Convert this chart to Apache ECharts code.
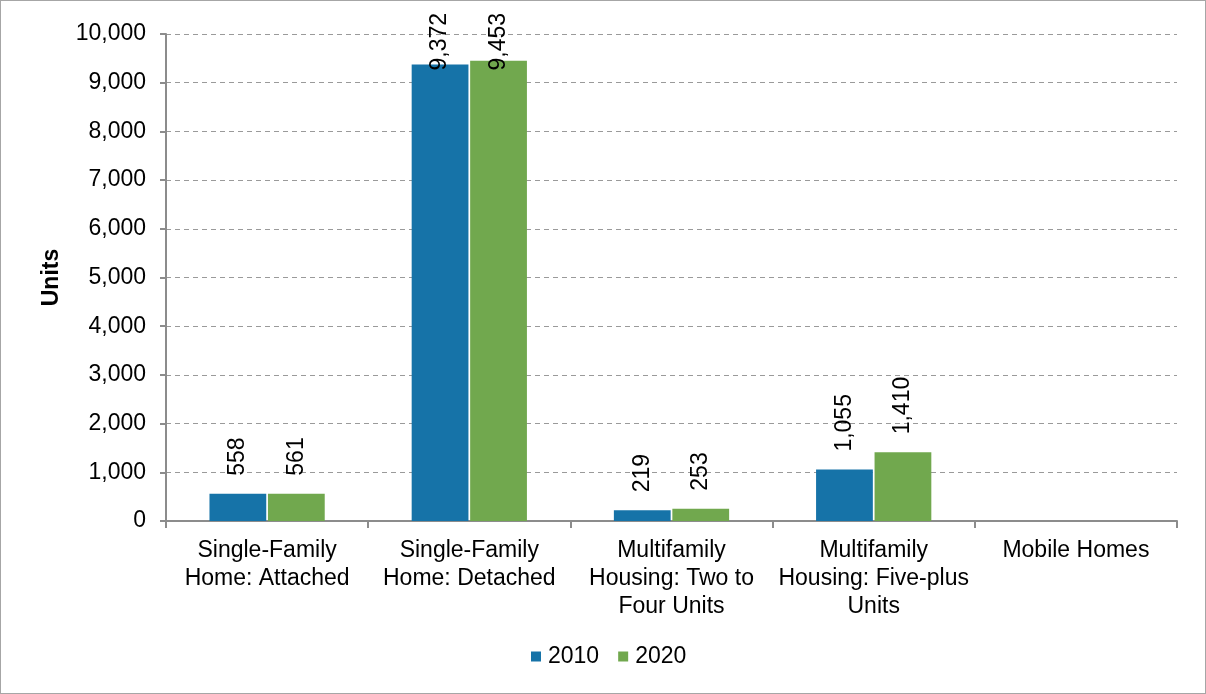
<!DOCTYPE html>
<html><head><meta charset="utf-8">
<script src="https://cdn.jsdelivr.net/npm/echarts@6/dist/echarts.min.js"></script>
<style>
html,body{margin:0;padding:0;background:#fff;}
#c{width:1204px;height:692px;border:1px solid #a6a6a6;}
</style></head>
<body><div id="c"></div>
<script>
var categories = ["Single-Family\nHome: Attached","Single-Family\nHome: Detached","Multifamily\nHousing: Two to\nFour Units","Multifamily\nHousing: Five-plus\nUnits","Mobile Homes"];
var seriesNames = ["2010","2020"];
var values2010 = [558, 9372, 219, 1055, null];
var values2020 = [561, 9453, 253, 1410, null];
var yTicks = {min:0, max:10000, interval:1000};

var chart = echarts.init(document.getElementById('c'));
var font = 'Liberation Sans, Arial, sans-serif';
var FS = 23;
function fmt(v){return v==null?'':Number(v).toLocaleString('en-US');}
var cv = document.createElement('canvas').getContext('2d');
cv.font = FS + 'px ' + font;
function labelBase(){
  return {show:true, position:'top', rotate:90, align:'left', verticalAlign:'middle', distance:18,
    fontFamily:font, fontSize:FS, color:'#000', formatter:function(p){return fmt(p.value);}};
}
function buildOption(dataA, dataB){
  return {
    animation:false,
    color:['#1673a8','#71a84e'],
    grid:{left:165, right:28, top:33, bottom:172, containLabel:false},
    legend:{bottom:20, left:525, itemWidth:10, itemHeight:10, itemGap:19, icon:'rect',
      textStyle:{fontFamily:font, fontSize:FS, color:'#000', padding:[0,0,0,2]}, data:seriesNames},
    xAxis:{type:'category', data:categories,
      axisLine:{lineStyle:{color:'#8c8c8c', width:2}},
      axisTick:{show:true, alignWithLabel:false, length:7, lineStyle:{color:'#8c8c8c', width:2}},
      axisLabel:{interval:0, fontFamily:font, fontSize:FS, color:'#000', lineHeight:28, margin:16}},
    yAxis:{type:'value', min:yTicks.min, max:yTicks.max, interval:yTicks.interval,
      name:'Units', nameLocation:'middle', nameGap:103, nameRotate:90,
      nameTextStyle:{fontFamily:font, fontSize:FS, fontWeight:'bold', color:'#000'},
      axisLine:{show:true, lineStyle:{color:'#8c8c8c', width:2}},
      axisTick:{show:true, length:6, lineStyle:{color:'#8c8c8c', width:2}},
      splitLine:{lineStyle:{color:'#9a9a9a', type:[5,4], width:1}},
      axisLabel:{fontFamily:font, fontSize:FS, color:'#000', margin:20, formatter:function(v){return fmt(v);}}},
    series:[
      {name:seriesNames[0], type:'bar', data:dataA, barGap:'3%', barCategoryGap:'43%', label:labelBase()},
      {name:seriesNames[1], type:'bar', data:dataB, label:labelBase()}
    ]
  };
}
chart.setOption(buildOption(values2010, values2020));
// Clamp labels inside the chart area (like the original), using the library's scale
var chartTop = 12;
function clamp(arr){
  return arr.map(function(v, i){
    if (v == null) return v;
    var topPx = chart.convertToPixel({gridIndex:0}, [i, v])[1];
    var len = cv.measureText(fmt(v)).width;
    if (topPx - 18 - len < chartTop) {
      return {value:v, label:{distance: topPx - chartTop - len}};
    }
    return v;
  });
}
chart.setOption(buildOption(clamp(values2010), clamp(values2020)));
</script></body></html>
